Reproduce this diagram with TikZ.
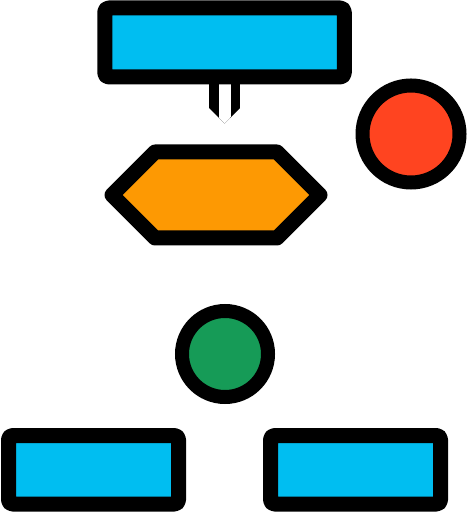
\documentclass[tikz,border=0pt]{standalone}
\usetikzlibrary{positioning,shapes.symbols,arrows.meta,backgrounds}
\definecolor{boxblue}{RGB}{0,190,241}
\definecolor{hexorange}{RGB}{253,153,3}
\definecolor{dotred}{RGB}{255,68,32}
\definecolor{dotgreen}{RGB}{22,155,87}
\begin{document}
\begin{tikzpicture}[x=0.5pt, y=-0.5pt,
procbox/.style={rectangle, draw=black, fill=boxblue, line width=7.5pt, rounded corners=2pt, line join=round, inner sep=0pt, outer sep=0pt},
decision/.style={signal, signal to=east and west, signal pointer angle=90, draw=black, fill=hexorange, line width=7.5pt, line join=round, inner sep=0pt, outer sep=0pt, minimum width=104pt, minimum height=43pt},
dot/.style={circle, draw=black, line width=7pt, inner sep=0pt, outer sep=0pt},
stub/.style={draw=black, line width=4.75pt, double=white, double distance=6pt},
link/.style={draw=white, line width=6pt, -{Triangle[width=16pt,length=11pt]}},
]
\useasboundingbox (0,0) rectangle (467,512);
% shapes
\node[procbox, minimum width=119.75pt, minimum height=34.5pt] (start) at (224.5,42.5) {};
\node[decision] (check) at (216,195) {};
\node[dot, fill=dotred, minimum size=48.5pt] (stop) at (411,134) {};
\node[dot, fill=dotgreen, minimum size=43pt] (merge) at (225,354) {};
\node[procbox, minimum width=85pt, minimum height=34.25pt] (left) at (93.5,469.75) {};
\node[procbox, minimum width=85pt, minimum height=34.25pt] (right) at (355.5,469.75) {};
\coordinate (join) at (225,289);
% connectors, behind the shapes
\begin{pgfonlayer}{background}
\begin{scope}
  \clip (180,60) -- (269,60) -- (269,79) -- (224.5,123.5) -- (180,79) -- cycle;
  \draw[stub] (start.south) -- (start.south |- check.north);
\end{scope}
\draw[link] (merge.north |- check.south) -- (merge.north);
\draw[link, rounded corners=8pt] (join) -| (stop.south);
\draw[link, rounded corners=8pt] (merge.west) -| (left.north);
\draw[link, rounded corners=8pt] (merge.east) -| (right.north);
\end{pgfonlayer}
\end{tikzpicture}
\end{document}
